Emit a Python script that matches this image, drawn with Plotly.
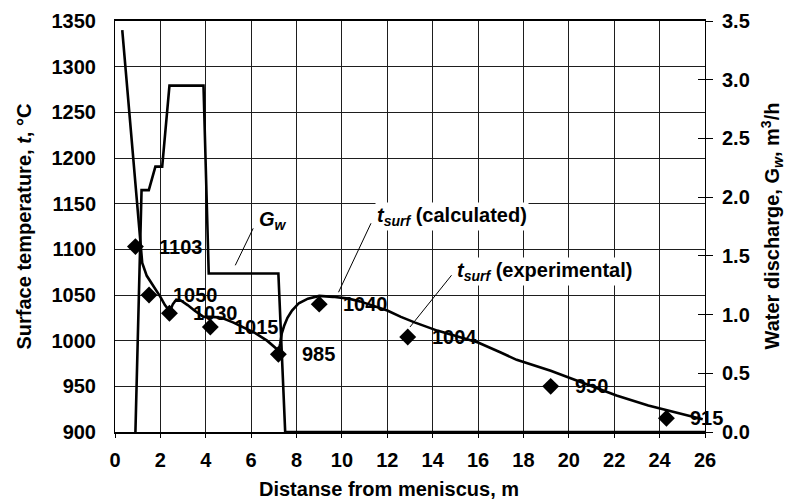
import plotly.graph_objects as go

# ---- data ----
x_calc = [0.32, 1.05, 1.12, 1.2, 1.4, 1.75, 2.0, 2.2, 2.42, 2.55, 2.7, 2.9, 3.2, 3.5, 3.9,
          4.3, 4.7, 5.2, 5.7, 6.2, 6.7, 7.0, 7.22, 7.28, 7.35, 7.45, 7.6, 7.8, 8.1, 8.5,
          9.0, 9.6, 10.3, 10.8, 11.3, 12.0, 12.6, 13.2, 14.2, 15.0, 16.0, 17.0, 17.7,
          19.2, 20.6, 22.1, 23.5, 25.0, 25.9]
t_calc = [1340, 1121, 1100, 1085, 1071, 1058, 1048, 1039, 1032, 1040, 1045, 1044, 1039, 1033, 1026,
          1026, 1025, 1020, 1014, 1008, 1000, 994, 989, 997, 1008, 1016, 1025, 1033, 1041, 1046,
          1049, 1048, 1046, 1043, 1039, 1033, 1026, 1020, 1011, 1005, 998, 987, 979,
          967, 954, 940, 929, 920, 914]

x_gw = [0.9, 1.17, 1.49, 1.78, 2.08, 2.4, 3.9, 4.13, 7.2, 7.5, 26]
gw = [0, 2.06, 2.06, 2.26, 2.26, 2.95, 2.95, 1.35, 1.35, 0, 0]

x_exp = [0.9, 1.5, 2.4, 4.2, 7.2, 9.0, 12.9, 19.2, 24.3]
t_exp = [1103, 1050, 1030, 1015, 985, 1040, 1004, 950, 915]

x_ticks = list(range(0, 27, 2))
t_ticks = list(range(900, 1351, 50))
gw_ticks = [0, 0.5, 1.0, 1.5, 2.0, 2.5, 3.0, 3.5]

FONT = "Arial, Liberation Sans, sans-serif"
FS = 20

fig = go.Figure()
fig.add_trace(go.Scatter(x=x_gw, y=gw, yaxis="y", mode="lines",
                         line=dict(color="black", width=2.6), showlegend=False))
fig.add_trace(go.Scatter(x=x_calc, y=t_calc, yaxis="y2", mode="lines",
                         line=dict(color="black", width=2.6), showlegend=False))
fig.add_trace(go.Scatter(x=x_exp, y=t_exp, yaxis="y2", mode="markers",
                         marker=dict(symbol="diamond", size=13, color="black"),
                         showlegend=False))
# activates the inner-tick overlay axis
fig.add_trace(go.Scatter(x=[0], y=[0], yaxis="y3", mode="markers",
                         marker=dict(size=1, opacity=0), showlegend=False, hoverinfo="skip"))

annotations = []
for xv, tv in zip(x_exp, t_exp):
    annotations.append(dict(x=xv, y=tv, xref="x", yref="y2", text=f"<b>{tv}</b>",
                            showarrow=False, xanchor="left", yanchor="middle", xshift=22,
                            font=dict(family=FONT, size=FS, color="black")))

annotations += [
    dict(x=6.97, y=1132, xref="x", yref="y2", text="<b><i>G<sub>w</sub></i></b>",
         showarrow=False, xanchor="center", yanchor="middle",
         font=dict(family=FONT, size=FS, color="black")),
    dict(x=11.46, y=1136, xref="x", yref="y2",
         text="<b><i>t</i><sub><i>surf</i></sub> (calculated)</b>",
         showarrow=False, xanchor="left", yanchor="middle", bgcolor="white",
         font=dict(family=FONT, size=FS, color="black")),
    dict(x=14.98, y=1076, xref="x", yref="y2",
         text="<b><i>t</i><sub><i>surf</i></sub> (experimental)</b>",
         showarrow=False, xanchor="left", yanchor="middle", bgcolor="white",
         font=dict(family=FONT, size=FS, color="black")),
    dict(x=0, y=0.5, xref="paper", yref="paper", xshift=-92, textangle=-90,
         text="<b>Surface temperature, <i>t</i>, °C</b>", showarrow=False,
         xanchor="center", yanchor="middle", font=dict(family=FONT, size=FS, color="black")),
    dict(x=1, y=0.5, xref="paper", yref="paper", xshift=67, textangle=-90,
         text="<b>Water discharge, G<sub><i>w</i></sub>, m<sup>3</sup>/h</b>", showarrow=False,
         xanchor="center", yanchor="middle", font=dict(family=FONT, size=FS, color="black")),
    dict(x=0.464, y=0, xref="paper", yref="paper", yshift=-57,
         text="<b>Distanse from meniscus, m</b>", showarrow=False,
         xanchor="center", yanchor="middle", font=dict(family=FONT, size=FS, color="black")),
]

shapes = [
    dict(type="line", xref="x", yref="y2", x0=6.09, y0=1123, x1=5.3, y1=1082.5,
         line=dict(color="black", width=1)),
    dict(type="line", xref="x", yref="y2", x0=11.28, y0=1128.5, x1=9.85, y1=1053,
         line=dict(color="black", width=1)),
    dict(type="line", xref="x", yref="y2", x0=14.83, y0=1071.6, x1=13.0, y1=1015,
         line=dict(color="black", width=1)),
]

GRID = "#1e1e1e"
TF = dict(family=FONT, size=FS, color="black", weight="bold")
fig.update_layout(
    width=787, height=501,
    margin=dict(l=115, r=82, t=21, b=69, autoexpand=False),
    paper_bgcolor="white", plot_bgcolor="white",
    font=dict(family=FONT, size=FS, color="black"),
    xaxis=dict(range=[0, 26], tickvals=x_ticks, showgrid=True, gridcolor=GRID, gridwidth=1,
               showline=True, linecolor="black", linewidth=2, mirror=True,
               ticks="outside", ticklen=4, tickcolor="black", ticklabelstandoff=5,
               tickfont=TF, zeroline=False, fixedrange=True),
    yaxis=dict(range=[0, 3.5], tickvals=gw_ticks, tickformat=".1f", side="right",
               showgrid=False, zeroline=False, showline=True, linecolor="black", linewidth=1,
               ticks="outside", ticklen=7, tickcolor="black", ticklabelstandoff=5,
               tickfont=TF),
    yaxis2=dict(range=[900, 1350], tickvals=t_ticks, side="left", overlaying="y",
                showgrid=True, gridcolor=GRID, gridwidth=1, zeroline=False,
                showline=True, linecolor="black", linewidth=1, ticks="",
                ticklabelstandoff=14, tickfont=TF),
    yaxis3=dict(range=[0, 3.5], tickvals=gw_ticks, side="right", overlaying="y",
                showgrid=False, zeroline=False, showline=False, showticklabels=False,
                ticks="inside", ticklen=7, tickcolor="black"),
    annotations=annotations,
    shapes=shapes,
)

fig.write_html("out.html")
